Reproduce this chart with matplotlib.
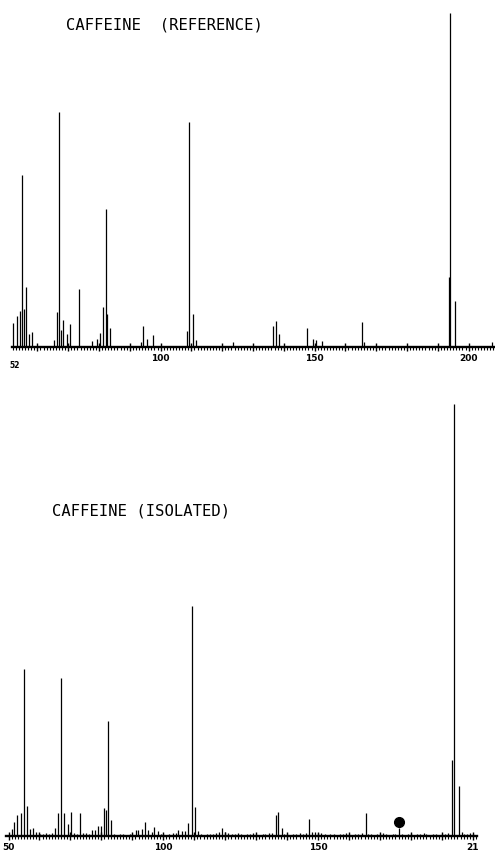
import matplotlib
matplotlib.use("Agg")
import matplotlib.pyplot as plt
from matplotlib.ticker import FixedLocator, FuncFormatter

# ---------------- data (m/z, relative intensity % of base peak) ----------------
ref_mz = [52.1, 53.3, 54.4, 55.1, 55.7, 56.3, 57.4, 58.4, 65.5, 66.5, 67.1, 67.7,
          68.4, 69.5, 70.5, 73.4, 77.6, 79.5, 80.4, 81.4, 82.3, 82.7, 83.6, 93.5,
          94.4, 95.5, 97.5, 108.5, 109.3, 110.4, 111.4, 123.4, 136.4, 137.4, 138.4,
          147.4, 149.5, 150.4, 152.5, 165.5, 166.2, 193.6, 194.0, 195.6, 207.5]
ref_int = [7.2, 9.3, 10.8, 51.5, 11.4, 18.0, 3.9, 4.5, 2.1, 10.5, 70.4, 5.1,
           8.1, 3.9, 6.9, 17.4, 1.8, 2.4, 4.2, 12.0, 41.3, 9.9, 5.7, 1.5,
           6.3, 2.4, 3.6, 4.8, 67.4, 9.9, 2.1, 1.5, 6.3, 7.8, 3.9,
           5.7, 2.4, 2.1, 1.8, 7.5, 1.5, 21.0, 100.0, 13.8, 1.5]

iso_mz = [51.0, 51.9, 52.8, 53.9, 55.0, 56.0, 57.0, 57.9, 58.9, 60.2, 61.2, 62.1,
          63.1, 64.0, 65.0, 66.1, 67.05, 68.0, 69.1, 70.1, 71.2, 72.1, 73.1, 74.2,
          75.0, 76.0, 76.9, 78.0, 79.0, 79.9, 81.0, 81.5, 82.0, 83.1, 84.2, 85.1,
          86.0, 87.1, 88.0, 89.1, 90.0, 91.2, 91.9, 93.0, 94.0, 95.2, 96.2, 97.1,
          98.2, 99.1, 100.0, 101.1, 102.0, 103.0, 104.0, 104.9, 106.1, 106.9, 108.0,
          109.2, 110.2, 111.3, 112.2, 113.1, 114.0, 115.1, 116.0, 117.0, 118.0, 119.0,
          120.0, 121.0, 122.1, 123.0, 124.1, 125.0, 126.1, 127.0, 128.0, 129.1, 130.0,
          131.0, 132.1, 133.0, 134.0, 135.1, 136.4, 137.1, 138.2, 139.1, 140.0, 141.1,
          142.0, 143.0, 144.1, 145.0, 146.1, 147.2, 148.0, 149.0, 150.0, 151.0, 152.1,
          153.0, 154.0, 155.1, 156.0, 157.0, 158.1, 159.0, 160.0, 161.1, 162.0, 163.0,
          164.1, 165.4, 166.1, 167.0, 168.1, 169.0, 170.0, 171.1, 172.0, 173.0, 174.1,
          175.0, 176.1, 177.0, 178.1, 179.0, 180.0, 181.1, 182.0, 183.0, 184.1, 185.0,
          186.1, 187.0, 188.0, 189.1, 190.0, 191.0, 192.1, 193.4, 194.0, 195.4, 196.4,
          197.2, 198.1, 199.0, 200.0]
iso_int = [1.6, 3.2, 4.9, 5.3, 38.7, 6.9, 1.6, 1.9, 0.9, 0.5, 0.4, 0.6,
           0.5, 0.7, 1.9, 5.3, 36.6, 5.3, 2.8, 5.6, 0.7, 0.5, 5.3, 0.7,
           0.7, 0.5, 1.4, 1.4, 2.3, 2.3, 6.5, 6.0, 26.6, 3.7, 0.4, 0.3,
           0.5, 0.4, 0.3, 0.5, 0.4, 1.4, 1.4, 1.6, 3.2, 1.4, 0.9, 2.1,
           1.2, 0.4, 0.5, 0.3, 0.4, 0.6, 0.8, 1.4, 1.2, 1.2, 3.0,
           53.2, 6.7, 1.2, 0.4, 0.3, 0.5, 0.4, 0.4, 0.7, 0.9, 1.9,
           0.9, 0.7, 0.5, 0.4, 0.6, 0.4, 0.3, 0.5, 0.4, 0.6, 0.4,
           0.3, 0.5, 0.4, 0.6, 0.8, 4.9, 5.6, 1.9, 0.5, 0.4, 0.3,
           0.5, 0.4, 0.6, 0.5, 0.7, 3.9, 0.9, 0.9, 0.7, 0.7, 0.4,
           0.3, 0.5, 0.4, 0.3, 0.5, 0.4, 0.6, 0.4, 0.3, 0.5, 0.4,
           0.6, 5.3, 0.5, 0.4, 0.3, 0.5, 0.4, 0.6, 0.4, 0.3, 0.5,
           0.4, 1.9, 0.4, 0.3, 0.5, 0.4, 0.3, 0.5, 0.4, 0.6, 0.4,
           0.3, 0.5, 0.4, 0.3, 0.5, 0.4, 0.6, 17.6, 100.0, 11.6, 0.9,
           0.5, 0.4, 0.6, 0.5]

blob_mz = [176.1]
blob_int = [3.2]

ref_tick_labels = {100: "100", 150: "150", 200: "200"}
iso_tick_labels = {50: "50", 100: "100", 150: "150", 200: "21"}
ref_title = "CAFFEINE  (REFERENCE)"
iso_title = "CAFFEINE (ISOLATED)"
ref_start_label = "52"

# ---------------- figure ----------------
W, H = 495, 854
fig = plt.figure(figsize=(W / 100, H / 100), dpi=100)
fig.patch.set_facecolor("white")


def style_axis(ax, xlim, ylim, bounds, majors, minors, labels):
    ax.set_xlim(*xlim)
    ax.set_ylim(*ylim)
    for s in ("top", "left", "right"):
        ax.spines[s].set_visible(False)
    ax.spines["bottom"].set_bounds(*bounds)
    ax.spines["bottom"].set_linewidth(1.7)
    ax.set_yticks([])
    ax.xaxis.set_major_locator(FixedLocator(majors))
    ax.xaxis.set_minor_locator(FixedLocator(minors))
    ax.xaxis.set_major_formatter(
        FuncFormatter(lambda v, p: labels.get(int(round(v)), "")))
    ax.tick_params(axis="x", which="minor", direction="out", length=2.2,
                   width=0.8, color="black")
    ax.tick_params(axis="x", which="major", direction="inout", length=6,
                   width=1.0, color="black", pad=1.5, labelsize=6.5)
    for lbl in ax.get_xticklabels():
        lbl.set_fontweight("bold")
        lbl.set_family("DejaVu Sans")
    ax.patch.set_alpha(0)


# top: reference spectrum, baseline at y=348px, base peak 334px tall
ax1 = fig.add_axes([0, 1 - 348 / H, 1, 348 / H])
ax1.vlines(ref_mz, 0, ref_int, color="black", lw=0.9)
style_axis(ax1, (47.86, 208.57), (0, 348 / 334 * 100), (51.8, 208.6),
           list(range(60, 210, 10)), list(range(52, 209)), ref_tick_labels)

# bottom: isolated spectrum, baseline at y=837px, base peak 432px tall
ax2 = fig.add_axes([0, 1 - 837 / H, 1, 442 / H])
ax2.vlines(iso_mz, 0, iso_int, color="black", lw=0.9)
ax2.plot(blob_mz, blob_int, "o", color="black", markersize=7, zorder=5)
style_axis(ax2, (47.25, 207.14), (0, 442 / 432 * 100), (49.2, 201.3),
           list(range(50, 210, 10)), list(range(50, 202)), iso_tick_labels)

# titles and the starting mass label
fig.text(65.7 / W, 1 - 24.5 / H, ref_title, family="DejaVu Sans Mono",
         fontsize=11.2, ha="left", va="center", color="black")
fig.text(51.7 / W, 1 - 511.5 / H, iso_title, family="DejaVu Sans Mono",
         fontsize=11.2, ha="left", va="center", color="black")
fig.text(15 / W, 1 - 366 / H, ref_start_label, family="DejaVu Sans",
         fontweight="bold", fontsize=5.5, ha="center", va="center")

fig.savefig("out.png", dpi=100, facecolor="white")
